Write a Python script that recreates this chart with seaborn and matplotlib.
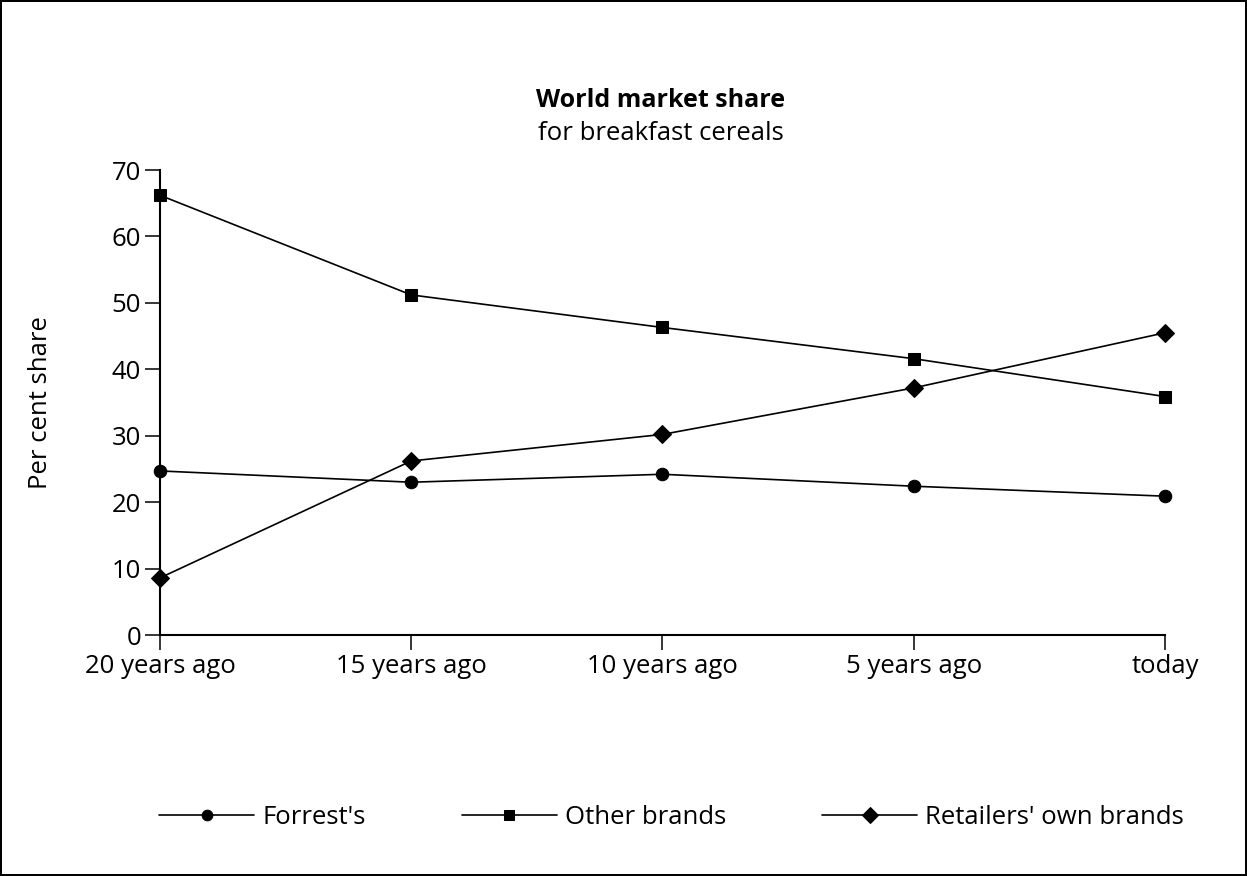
import matplotlib
matplotlib.use("Agg")
import matplotlib.pyplot as plt
import seaborn as sns
import pandas as pd

periods = ["20 years ago", "15 years ago", "10 years ago", "5 years ago", "today"]
forrests = [24.7, 23.0, 24.2, 22.4, 20.9]
other_brands = [66.2, 51.2, 46.3, 41.6, 35.9]
retailers = [8.6, 26.2, 30.2, 37.2, 45.5]
series_names = ["Forrest's", "Other brands", "Retailers' own brands"]

df = pd.DataFrame({
    "period": periods * 3,
    "share": forrests + other_brands + retailers,
    "series": [n for n in series_names for _ in periods],
})

sns.set_style("white")
plt.rcParams["font.family"] = ["Open Sans", "DejaVu Sans"]
plt.rcParams["text.color"] = "black"
plt.rcParams["axes.labelcolor"] = "black"

fs = 18.5

fig = plt.figure(figsize=(12.47, 8.76), dpi=100)
fig.patch.set_edgecolor("black")
fig.patch.set_linewidth(1.5)
ax = fig.add_axes([0.1283, 0.2751, 0.9342 - 0.1283, 0.8059 - 0.2751])

sns.lineplot(data=df, x="period", y="share", style="series", markers=["o", "s", "D"],
             dashes=False, color="black", linewidth=1.2, markersize=9,
             markeredgecolor="black", sort=False, ax=ax, clip_on=False, zorder=5)

ax.set_xlim(0, 4)
ax.set_ylim(0, 70)
ax.set_yticks(range(0, 71, 10))
sns.despine(ax=ax)
for s in ["left", "bottom"]:
    ax.spines[s].set_linewidth(1.5)
    ax.spines[s].set_color("black")
ax.tick_params(axis="both", direction="out", length=10.5, width=1.1, colors="black",
               labelsize=fs, pad=3, bottom=True, left=True)
ax.set_xlabel("")
ax.set_ylabel("Per cent share", fontsize=fs, color="black")
ax.yaxis.set_label_coords(-0.106, 0.5)

fig.text(0.530, 0.885, "World market share", ha="center", va="center",
         fontsize=18, fontweight="bold")
fig.text(0.530, 0.848, "for breakfast cereals", ha="center", va="center", fontsize=fs)

handles, labels = ax.get_legend_handles_labels()
leg = ax.legend(handles, labels, ncol=3, frameon=False, fontsize=fs,
                loc="center", bbox_to_anchor=(0.5385, 0.067), bbox_transform=fig.transFigure,
                handlelength=3.7, handletextpad=0.3, columnspacing=3.75, markerscale=0.85)
for t in leg.get_texts():
    t.set_color("black")

plt.savefig("out.png", dpi=100)
